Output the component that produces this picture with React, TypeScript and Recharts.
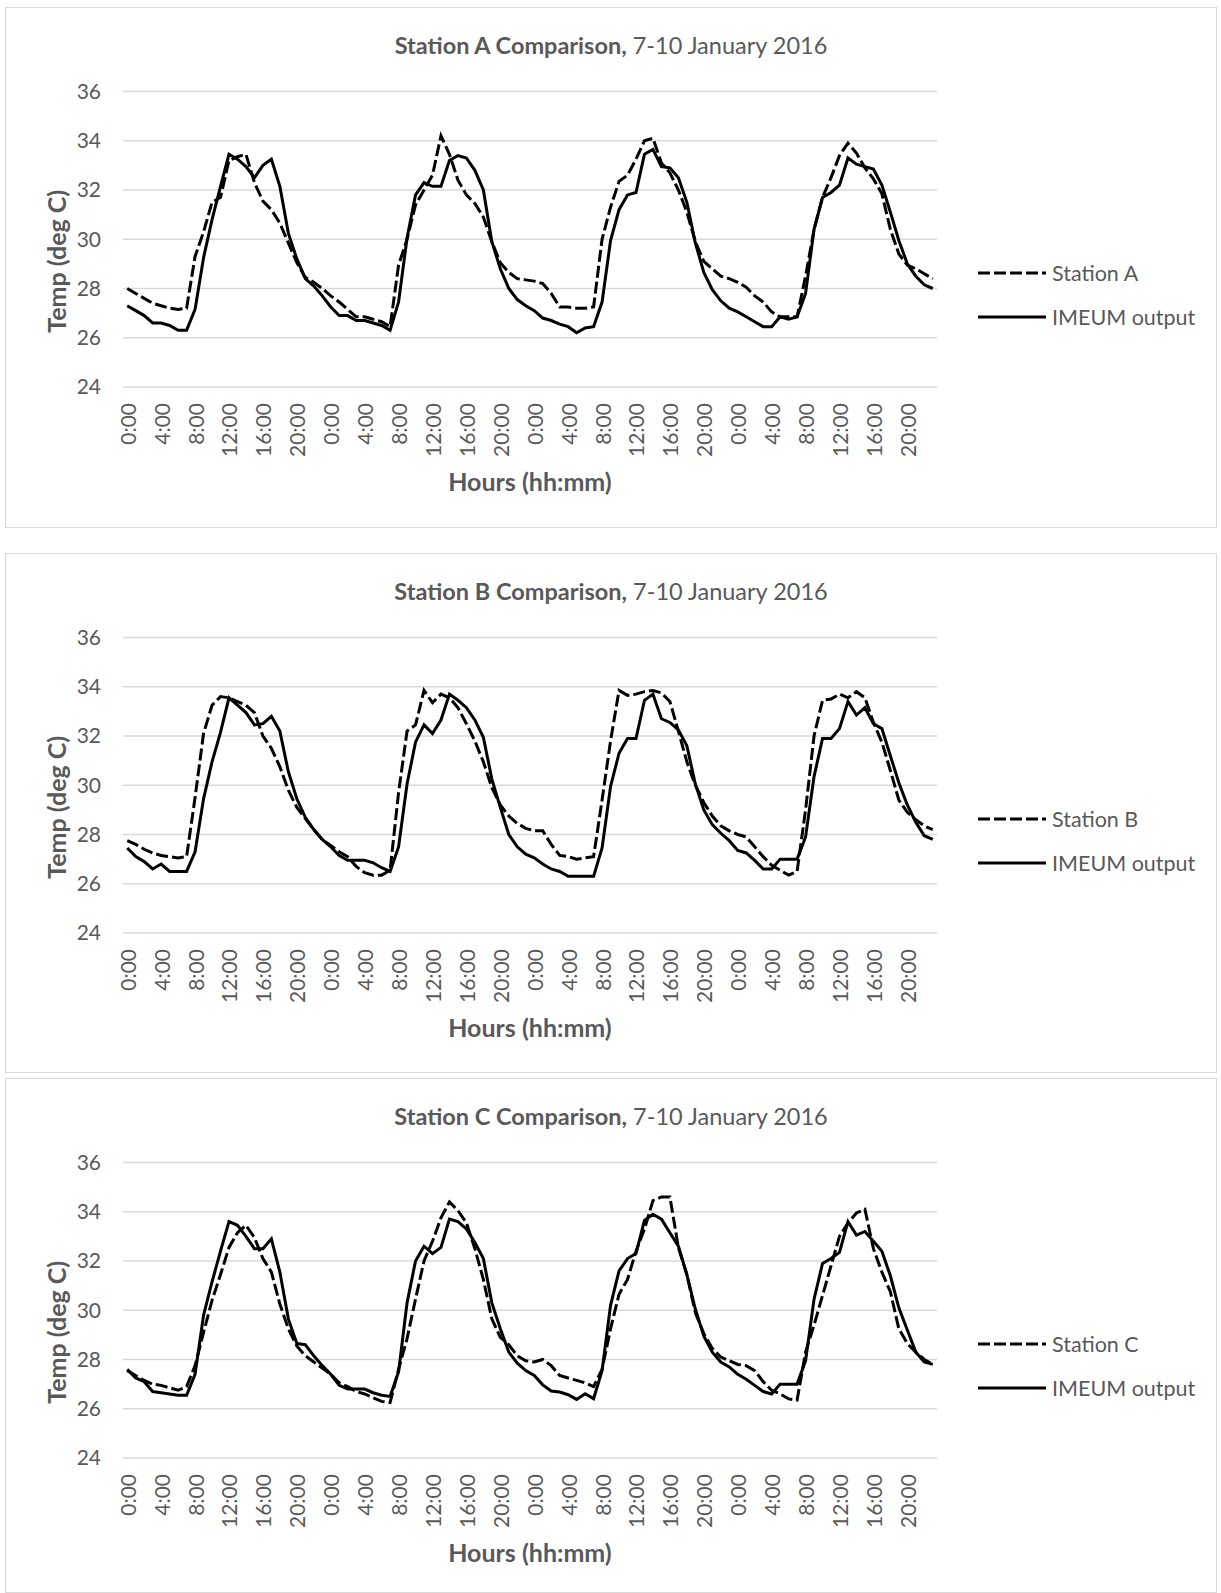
import React from "react";
import { LineChart, Line, XAxis, YAxis, CartesianGrid, Legend, Label } from "recharts";

const FONT = "Lato, 'Open Sans', sans-serif";
const TEXT = "#595959";
const GRID = "#d9d9d9";

const DAY_HOURS = [
  "0:00", "1:00", "2:00", "3:00", "4:00", "5:00", "6:00", "7:00",
  "8:00", "9:00", "10:00", "11:00", "12:00", "13:00", "14:00", "15:00",
  "16:00", "17:00", "18:00", "19:00", "20:00", "21:00", "22:00", "23:00",
];
const Y_TICKS = [24, 26, 28, 30, 32, 34, 36];

// hourly readings, 7-10 January 2016 (4 x 24 values)
const STATION_A = [
  28.0, 27.8, 27.6, 27.4, 27.3, 27.2, 27.15, 27.2, 29.3, 30.3, 31.5, 31.7, 33.2, 33.35, 33.45, 32.3, 31.55, 31.2, 30.65, 29.85, 29.05, 28.45, 28.25, 28.0,
  27.7, 27.45, 27.15, 26.85, 26.85, 26.75, 26.65, 26.45, 28.95, 30.0, 31.4, 32.0, 32.6, 34.2, 33.45, 32.4, 31.8, 31.45, 30.9, 29.9, 29.05, 28.65, 28.4, 28.35,
  28.3, 28.2, 27.8, 27.25, 27.25, 27.2, 27.2, 27.25, 30.0, 31.3, 32.35, 32.6, 33.25, 34.0, 34.1, 33.1, 32.7, 32.0, 31.1, 29.9, 29.1, 28.8, 28.5, 28.4,
  28.25, 28.05, 27.7, 27.45, 27.05, 26.85, 26.85, 26.85, 28.5, 30.4, 31.7, 32.5, 33.4, 33.9, 33.5, 32.9, 32.45, 31.85, 30.4, 29.4, 28.95, 28.8, 28.6, 28.4,
];
const IMEUM_A = [
  27.3, 27.1, 26.9, 26.6, 26.6, 26.5, 26.3, 26.3, 27.15, 29.25, 30.8, 32.15, 33.45, 33.25, 32.95, 32.5, 33.0, 33.25, 32.15, 30.25, 29.2, 28.4, 28.1, 27.7,
  27.25, 26.9, 26.9, 26.7, 26.7, 26.6, 26.5, 26.3, 27.45, 30.05, 31.8, 32.3, 32.15, 32.15, 33.2, 33.4, 33.3, 32.8, 32.0, 29.9, 28.8, 28.0, 27.55, 27.3,
  27.1, 26.8, 26.7, 26.55, 26.45, 26.2, 26.4, 26.45, 27.45, 29.95, 31.2, 31.8, 31.9, 33.45, 33.65, 32.95, 32.9, 32.5, 31.5, 29.85, 28.65, 27.95, 27.5, 27.2,
  27.05, 26.85, 26.65, 26.45, 26.45, 26.85, 26.75, 26.85, 27.8, 30.4, 31.7, 31.9, 32.2, 33.3, 33.05, 32.95, 32.85, 32.2, 31.1, 29.95, 29.0, 28.5, 28.15, 28.0,
];
const STATION_B = [
  27.75, 27.6, 27.4, 27.25, 27.15, 27.1, 27.05, 27.1, 29.5, 32.1, 33.25, 33.6, 33.55, 33.4, 33.25, 32.95, 32.0, 31.5, 30.75, 29.8, 29.1, 28.65, 28.2, 27.8,
  27.55, 27.3, 27.1, 26.7, 26.45, 26.35, 26.35, 26.55, 29.7, 32.2, 32.45, 33.85, 33.35, 33.7, 33.55, 33.15, 32.5, 31.8, 30.95, 29.9, 29.2, 28.75, 28.45, 28.25,
  28.15, 28.15, 27.6, 27.15, 27.1, 27.0, 27.05, 27.1, 29.4, 31.8, 33.85, 33.65, 33.7, 33.8, 33.85, 33.75, 33.4, 32.2, 30.95, 30.0, 29.3, 28.75, 28.35, 28.15,
  28.0, 27.9, 27.5, 27.1, 26.75, 26.55, 26.35, 26.5, 29.0, 32.0, 33.45, 33.5, 33.7, 33.55, 33.8, 33.55, 32.55, 31.75, 30.6, 29.4, 28.9, 28.6, 28.35, 28.2,
];
const IMEUM_B = [
  27.45, 27.1, 26.9, 26.6, 26.8, 26.5, 26.5, 26.5, 27.3, 29.45, 30.95, 32.15, 33.55, 33.25, 32.95, 32.45, 32.5, 32.8, 32.2, 30.55, 29.45, 28.7, 28.2, 27.8,
  27.5, 27.15, 26.95, 26.95, 26.95, 26.85, 26.65, 26.5, 27.5, 30.05, 31.75, 32.45, 32.1, 32.65, 33.7, 33.45, 33.15, 32.65, 31.95, 30.25, 29.1, 28.0, 27.5, 27.2,
  27.05, 26.8, 26.6, 26.5, 26.3, 26.3, 26.3, 26.3, 27.45, 29.95, 31.3, 31.9, 31.9, 33.45, 33.7, 32.7, 32.55, 32.25, 31.6, 30.05, 29.0, 28.4, 28.05, 27.75,
  27.35, 27.25, 26.95, 26.6, 26.6, 27.0, 27.0, 27.0, 27.9, 30.35, 31.9, 31.9, 32.3, 33.4, 32.85, 33.15, 32.5, 32.3, 31.2, 30.1, 29.2, 28.5, 27.95, 27.8,
];
const STATION_C = [
  27.55, 27.35, 27.15, 27.0, 26.95, 26.85, 26.75, 26.9, 27.75, 29.1, 30.4, 31.45, 32.55, 33.15, 33.45, 32.95, 32.1, 31.55, 30.25, 29.25, 28.55, 28.15, 27.9, 27.65,
  27.4, 27.05, 26.9, 26.7, 26.6, 26.45, 26.3, 26.25, 27.6, 28.85, 30.45, 32.0, 32.8, 33.75, 34.4, 34.05, 33.55, 32.5, 31.25, 29.65, 28.9, 28.6, 28.15, 27.95,
  27.9, 28.0, 27.75, 27.35, 27.25, 27.15, 27.05, 26.9, 27.6, 29.25, 30.65, 31.25, 32.4, 33.3, 34.45, 34.6, 34.6, 32.55, 31.45, 29.9, 29.05, 28.45, 28.1, 27.95,
  27.8, 27.75, 27.55, 27.1, 26.75, 26.6, 26.4, 26.35, 28.3, 29.4, 30.6, 31.8, 33.0, 33.55, 33.95, 34.1, 32.5, 31.55, 30.75, 29.25, 28.65, 28.3, 28.0, 27.8,
];
const IMEUM_C = [
  27.6, 27.25, 27.1, 26.7, 26.65, 26.6, 26.55, 26.55, 27.4, 29.8, 31.15, 32.4, 33.6, 33.45, 33.0, 32.5, 32.5, 32.9, 31.55, 29.65, 28.65, 28.6, 28.15, 27.75,
  27.4, 26.95, 26.8, 26.8, 26.8, 26.65, 26.55, 26.5, 27.5, 30.3, 32.0, 32.6, 32.3, 32.55, 33.7, 33.6, 33.3, 32.75, 32.1, 30.3, 29.25, 28.3, 27.85, 27.55,
  27.35, 26.97, 26.72, 26.68, 26.57, 26.38, 26.61, 26.41, 27.55, 30.2, 31.6, 32.1, 32.3, 33.65, 33.9, 33.7, 33.15, 32.6, 31.45, 30.05, 28.95, 28.3, 27.9, 27.7,
  27.4, 27.2, 26.95, 26.7, 26.6, 27.0, 27.0, 27.0, 27.95, 30.45, 31.9, 32.1, 32.35, 33.6, 33.05, 33.2, 32.8, 32.4, 31.4, 30.1, 29.2, 28.3, 27.9, 27.8,
];

const PANELS = [
  { name: "Station A", station: STATION_A, model: IMEUM_A, top: 7, height: 521 },
  { name: "Station B", station: STATION_B, model: IMEUM_B, top: 553, height: 520 },
  { name: "Station C", station: STATION_C, model: IMEUM_C, top: 1078, height: 515 },
];

const SERIES_ORDER = ["station", "model"];

const HourTick = (props: any) => {
  const { x, y, payload } = props;
  return (
    <text
      x={x}
      y={y}
      transform={`rotate(-90, ${x}, ${y})`}
      textAnchor="end"
      dominantBaseline="central"
      fill={TEXT}
      fontSize={21}
    >
      {DAY_HOURS[Number(payload.value) % 24]}
    </text>
  );
};

const YTitle = (props: any) => {
  const vb = props.viewBox;
  const cx = vb.x + 50;
  const cy = vb.y + vb.height / 2 + 22;
  return (
    <text
      x={cx}
      y={cy}
      transform={`rotate(-90, ${cx}, ${cy})`}
      textAnchor="middle"
      dominantBaseline="central"
      fill={TEXT}
      fontSize={25}
      fontWeight={700}
    >
      Temp (deg C)
    </text>
  );
};

const XTitle = (props: any) => {
  const vb = props.viewBox;
  return (
    <text
      x={vb.x + vb.width / 2}
      y={vb.y + 94}
      textAnchor="middle"
      dominantBaseline="central"
      fill={TEXT}
      fontSize={25}
      fontWeight={700}
    >
      Hours (hh:mm)
    </text>
  );
};

const renderLegend = (props: any) => {
  const items = [...(props.payload || [])].sort(
    (a: any, b: any) => SERIES_ORDER.indexOf(a.dataKey) - SERIES_ORDER.indexOf(b.dataKey)
  );
  return (
    <div style={{ paddingLeft: 41 }}>
      {items.map((item: any) => (
        <div
          key={item.value}
          style={{
            display: "flex",
            alignItems: "center",
            height: 44,
            fontSize: 21.5,
            color: TEXT,
            whiteSpace: "nowrap",
          }}
        >
          <svg width={68} height={10} style={{ marginRight: 6, flex: "none" }}>
            <line
              x1={0}
              y1={5}
              x2={68}
              y2={5}
              stroke="#000"
              strokeWidth={3}
              strokeDasharray={item.payload?.strokeDasharray}
            />
          </svg>
          <span>{item.value}</span>
        </div>
      ))}
    </div>
  );
};

function ComparisonChart({ name, station, model }: { name: string; station: number[]; model: number[] }) {
  const data = station.map((v, i) => ({ idx: i, station: v, model: model[i] }));

  return (
    <LineChart width={1210} height={519} data={data} margin={{ top: 83.5, right: 39, bottom: 0, left: 0 }}>
      <CartesianGrid vertical={false} stroke={GRID} strokeWidth={1.5} />
      <XAxis
        dataKey="idx"
        type="category"
        interval={3}
        tick={<HourTick />}
        tickLine={false}
        axisLine={false}
        tickSize={0}
        tickMargin={16}
        height={140}
        padding={{ left: 4.24, right: 4.24 }}
      >
        <Label content={<XTitle />} />
      </XAxis>
      <YAxis
        domain={[24, 36]}
        ticks={Y_TICKS}
        width={117}
        tick={{ fill: TEXT, fontSize: 21 }}
        tickLine={false}
        axisLine={false}
        tickSize={0}
        tickMargin={22}
      >
        <Label content={<YTitle />} />
      </YAxis>
      <Legend
        layout="vertical"
        align="right"
        verticalAlign="middle"
        wrapperStyle={{ width: 240, top: 243 }}
        content={renderLegend}
      />
      <Line
        dataKey="station"
        name={name}
        stroke="#000"
        strokeWidth={3}
        strokeDasharray="12 4"
        dot={false}
        activeDot={false}
        isAnimationActive={false}
      />
      <Line
        dataKey="model"
        name="IMEUM output"
        stroke="#000"
        strokeWidth={3}
        dot={false}
        activeDot={false}
        isAnimationActive={false}
      />
    </LineChart>
  );
}

export default function App() {
  return (
    <div
      style={{
        position: "absolute",
        left: 0,
        top: 0,
        width: 1221,
        height: 1593,
        background: "#fff",
        fontFamily: FONT,
        overflow: "hidden",
      }}
    >
      {PANELS.map((p) => (
        <div
          key={p.name}
          style={{
            position: "absolute",
            left: 5,
            top: p.top,
            width: 1212,
            height: p.height,
            boxSizing: "border-box",
            border: `1px solid ${GRID}`,
            overflow: "hidden",
            background: "#fff",
          }}
        >
          <div
            style={{
              position: "absolute",
              left: 0,
              top: 22,
              width: "100%",
              textAlign: "center",
              fontSize: 23.5,
              lineHeight: "30px",
              color: TEXT,
              zIndex: 2,
            }}
          >
            <b>{p.name} Comparison,</b> 7-10 January 2016
          </div>
          <ComparisonChart name={p.name} station={p.station} model={p.model} />
        </div>
      ))}
    </div>
  );
}
